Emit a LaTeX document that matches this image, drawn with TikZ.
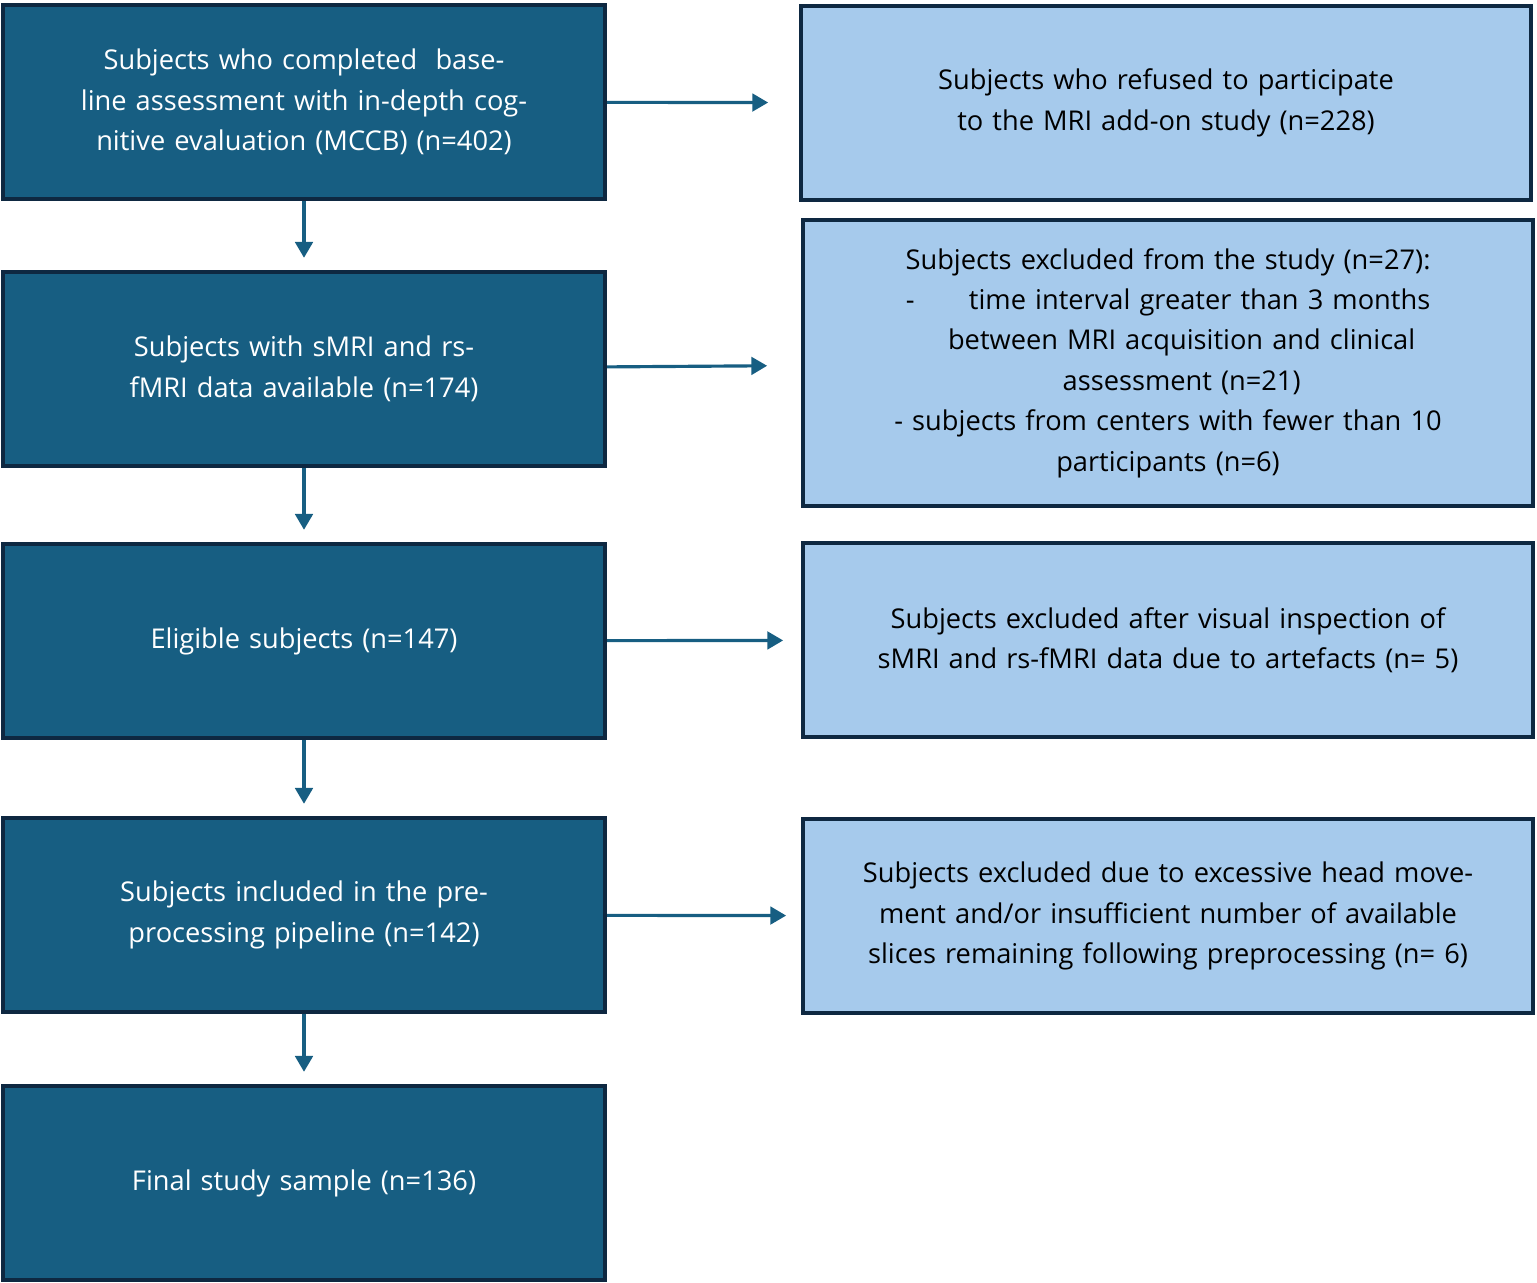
\documentclass[tikz,border=0pt]{standalone}
\usepackage{fontspec}
\setmainfont{Open Sans}
\usetikzlibrary{arrows.meta}
\definecolor{stepblue}{HTML}{175E82}
\definecolor{exclblue}{HTML}{A6CAEC}
\definecolor{edgeblue}{HTML}{0E2841}
\tikzset{
  stage/.style={draw=edgeblue, line width=2.2pt, fill=stepblue, text=white,
    minimum width=12.05cm, minimum height=3.88cm, text width=11cm, align=center,
    font=\fontsize{15.5}{23}\selectfont},
  excl/.style={draw=edgeblue, line width=2.2pt, fill=exclblue, text=black,
    minimum width=14.6cm, text width=14.2cm, align=center,
    font=\fontsize{15.5}{23}\selectfont},
  flow/.style={stepblue, line width=1.8pt, -{Triangle[length=9pt,width=10pt]}}
}
\begin{document}
\begin{tikzpicture}[x=0.02cm, y=-0.02cm]
  \useasboundingbox (0,0) rectangle (1537,1283);
  % main steps
  \node[stage] (s1) at (304,102) {Subjects who completed\ \ baseline assessment with in-depth cognitive evaluation (MCCB) (n=402)};
  \node[stage] (s2) at (304,369) {Subjects with sMRI and rs-fMRI data available (n=174)};
  \node[stage] (s3) at (304,641) {Eligible subjects (n=147)};
  \node[stage] (s4) at (304,915) {Subjects included in the preprocessing pipeline (n=142)};
  \node[stage] (s5) at (304,1183) {Final study sample (n=136)};
  % exclusions
  \node[excl, minimum height=3.88cm] (e1) at (1166,103) {Subjects who refused to participate to the MRI add-on study (n=228)};
  \node[excl, minimum height=5.72cm] (e2) at (1168,363) {Subjects excluded from the study (n=27):\\
    -\qquad time interval greater than 3 months\\ \quad between MRI acquisition and clinical\\ \quad assessment (n=21)\\
    - subjects from centers with fewer than 10\\ participants (n=6)};
  \node[excl, minimum height=3.88cm] (e3) at (1168,640) {Subjects excluded after visual inspection of sMRI and rs-fMRI data due to artefacts (n= 5)};
  \node[excl, minimum height=3.88cm] (e4) at (1168,916) {Subjects excluded due to excessive head movement and/or insufficient number of available slices remaining following preprocessing (n= 6)};
  % connectors
  \foreach \a/\b in {s1/s2, s2/s3, s3/s4, s4/s5}
    \draw[flow, shorten >=7pt] (\a) -- (\b);
  \draw[flow, shorten >=0.62cm] (s1) -- (e1);
  \draw[flow, shorten >=0.68cm] (s2) -- (e2);
  \draw[flow, shorten >=0.36cm] (s3) -- (e3);
  \draw[flow, shorten >=0.3cm] (s4) -- (e4);
\end{tikzpicture}
\end{document}
